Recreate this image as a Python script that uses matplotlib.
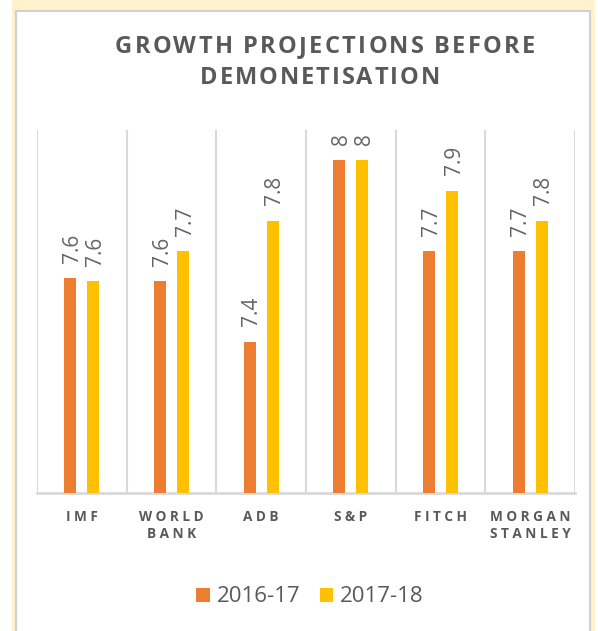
import matplotlib.pyplot as plt
from matplotlib.patches import Rectangle

agencies = ["IMF", "WORLD\nBANK", "ADB", "S&P", "FITCH", "MORGAN\nSTANLEY"]
fy17 = [7.61, 7.6, 7.4, 8.0, 7.7, 7.7]
fy18 = [7.6, 7.7, 7.8, 8.0, 7.9, 7.8]
series = ["2016-17", "2017-18"]
colors = ["#ED7D31", "#FFC000"]

GRAY = "#595959"
plt.rcParams["font.family"] = ["Open Sans", "DejaVu Sans"]


def spaced(s, gap=" "):
    # fake letter spacing for the axis labels
    return "\n".join(("  ").join(gap.join(w) for w in line.split(" "))
                     for line in s.split("\n"))


fig = plt.figure(figsize=(5.98, 6.31), dpi=100)
W, H = 598, 631
renderer = fig.canvas.get_renderer()


def tracked(s, x0, x1, y, **kw):
    # spread the letters of s between pixel x0 and x1, baseline at pixel y
    ts, ws = [], []
    for ch in s:
        t = fig.text(0, 1 - y / H, ch, ha="left", va="baseline", **kw)
        wd = t.get_window_extent(renderer).width
        if ch == " ":
            wd = kw["fontsize"] * 100 / 72 * 0.22
        ts.append(t)
        ws.append(wd)
    gap = (x1 - x0 - sum(ws)) / (len(s) - 1)
    pos = x0
    for t, wd in zip(ts, ws):
        t.set_x(pos / W)
        pos += wd + gap


# cream frame + white card with grey border
fig.patches.append(Rectangle((12 / W, 0), 583 / W, 1, transform=fig.transFigure,
                             facecolor="#FFF2CC", edgecolor="none", zorder=-3))
fig.patches.append(Rectangle((16 / W, -0.05), 574 / W, (620 / H) + 0.05,
                             transform=fig.transFigure, facecolor="white",
                             edgecolor="#D0D0D0", linewidth=1.5, zorder=-2))

ax = fig.add_axes([37 / W, 1 - 493 / H, 538 / W, 363 / H])
ax.patch.set_alpha(0)

x = list(range(len(agencies)))
w = 0.134
off = 0.128
for vals, c, d in zip([fy17, fy18], colors, [-1, 1]):
    xs = [i + d * off for i in x]
    ax.bar(xs, vals, width=w, color=c, zorder=3)
    for xi, v in zip(xs, vals):
        ax.annotate(f"{round(v, 1):g}", (xi, v), xytext=(1.5, 11),
                    textcoords="offset points", rotation=90, ha="center",
                    va="bottom", fontsize=15, color="#656565")

ax.set_ylim(6.9, 8.1)
ax.set_xlim(-0.5, len(agencies) - 0.5)
for b in range(len(agencies) + 1):
    ax.axvline(b - 0.5, color="#D9D9D9", linewidth=1.5, zorder=1)
for s in ["top", "right", "left"]:
    ax.spines[s].set_visible(False)
ax.spines["bottom"].set_color("#D9D9D9")
ax.spines["bottom"].set_linewidth(2)
ax.set_yticks([])
ax.set_xticks([])

for i, name in enumerate(agencies):
    ax.annotate(spaced(name), (i, 0), xycoords=("data", "axes fraction"),
                xytext=(0, -12), textcoords="offset points", ha="center",
                va="top", fontsize=9.8, fontweight="bold", color=GRAY,
                linespacing=1.3, multialignment="center")

tracked("GROWTH PROJECTIONS BEFORE", 115, 535, 53, fontsize=17,
        fontweight="bold", color=GRAY)
tracked("DEMONETISATION", 200, 440, 84, fontsize=17, fontweight="bold",
        color=GRAY)

handles = [Rectangle((0, 0), 1, 1, facecolor=c) for c in colors]
fig.legend(handles, series, loc="center", bbox_to_anchor=(310 / W, 1 - 597 / H),
           ncol=2, frameon=False, fontsize=16, labelcolor=GRAY,
           handlelength=0.6, handleheight=0.6, handletextpad=0.3,
           columnspacing=0.9)

fig.savefig("out.png", dpi=100)
